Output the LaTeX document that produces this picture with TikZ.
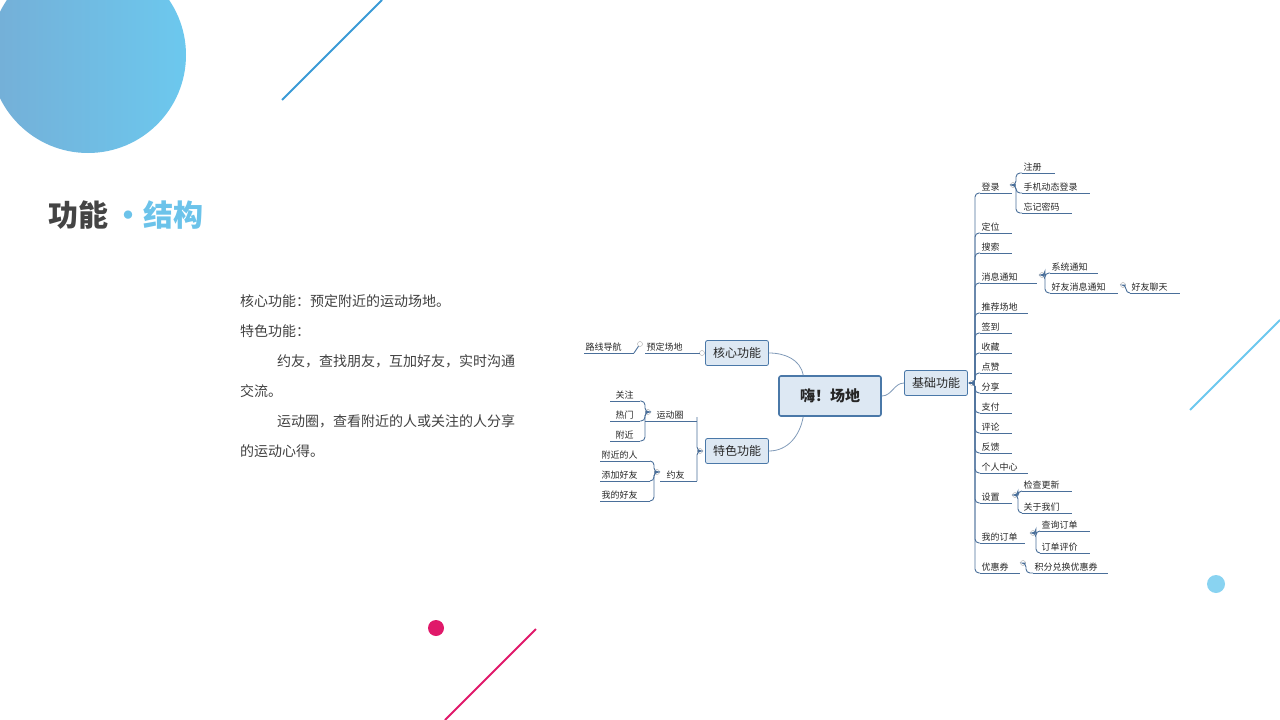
\documentclass[tikz,border=0pt]{standalone}
\usepackage{fontspec}
\setmainfont{Noto Sans CJK SC}
\usetikzlibrary{calc}
\definecolor{boxfill}{HTML}{DDE8F3}
\definecolor{boxline}{HTML}{4A78A8}
\definecolor{brline}{HTML}{4A6F9A}
\definecolor{titlegray}{HTML}{444444}
\definecolor{titleblue}{HTML}{6CC3EA}
\definecolor{pinkline}{HTML}{E0196A}
\definecolor{skyline}{HTML}{6CC8EE}
\definecolor{deepline}{HTML}{3A9AD6}

\tikzset{
  topic/.style={draw=boxline, fill=boxfill, thick, rounded corners=2pt, font=\fontsize{12}{14}\selectfont, text=black!85, inner sep=0pt, minimum height=25pt, minimum width=63pt},
  leaf/.style={font=\fontsize{9}{11}\selectfont, text=black!85, inner sep=1.5pt, anchor=south west},
  br/.style={draw=brline, line width=0.9pt},
  knob/.style={circle, draw=gray!70, fill=white, inner sep=0pt, minimum size=5pt},
  body/.style={font=\fontsize{14}{16}\selectfont, text=black!75, anchor=west, inner sep=0pt}
}

% leaf: name, left x, right x, line y, text
\newcommand\leaf[5]{
  \coordinate (#1-l) at (#2,#4);
  \coordinate (#1-r) at (#3,#4);
  \draw[br] (#1-l) -- (#1-r);
  \node[leaf] (#1) at (#1-l) {#5};
}
\newcommand\rbr[2]{\draw[br, rounded corners=4pt] (#1) -- ++(3,0) |- (#2-l);}
\newcommand\lbr[2]{\draw[br, rounded corners=4pt] (#1) -- ++(-3,0) |- (#2-r);}

\begin{document}
\begin{tikzpicture}[x=1pt,y=-1pt]
\useasboundingbox (0,0) rectangle (1280,720);

% decoration
\shade[left color=violet!45!cyan!70, right color=skyline] (88,55) circle (98);
\draw[deepline, line width=2pt] (282,100) -- (382,0);
\draw[skyline, line width=2pt] (1190,410) -- (1280,320);
\fill[skyline!80] (1216,584) circle (9);
\fill[pinkline] (436,628) circle (8);
\draw[pinkline, line width=2pt] (445,720) -- (536,629);

% title
\node[anchor=west, inner sep=0pt, font=\fontsize{30}{34}\selectfont\bfseries] (title) at (48,215)
  {\textcolor{titlegray}{功能}\,\textcolor{titleblue}{·结构}};

% description
\node[body] (d1) at (240,301) {核心功能：预定附近的运动场地。};
\node[body] (d2) at (240,331) {特色功能：};
\node[body] (d3) at (277,361) {约友，查找朋友，互加好友，实时沟通};
\node[body] (d4) at (240,391) {交流。};
\node[body] (d5) at (277,421) {运动圈，查看附近的人或关注的人分享};
\node[body] (d6) at (240,451) {的运动心得。};

% central topics
\node[topic, line width=1.6pt, minimum width=102pt, minimum height=40pt, font=\fontsize{15}{17}\selectfont\bfseries] (hi) at (830,396) {嗨！场地};
\node[topic] (core) at (737,353) {核心功能};
\node[topic] (spec) at (737,451) {特色功能};
\node[topic] (base) at (936,383) {基础功能};
\draw[brline!70, thick] (core.east) to[out=0, in=100] ([xshift=25pt]hi.north west);
\draw[brline!70, thick] (spec.east) to[out=0, in=-100] ([xshift=25pt]hi.south west);
\draw[brline!70, thick] (hi.east) to[out=0, in=180] (base.west);

% core branch
\node[knob] (kc) at (702,353) {};
\leaf{book}{645}{700}{353}{预定场地}
\node[knob] (kb) at (640,344) {};
\leaf{nav}{584}{634}{353}{路线导航}
\node[leaf] at (book-l) {};

% special branch
\node[knob] (ks) at (700,451) {};
\leaf{circ}{645}{697}{421}{\hspace{10pt}运动圈}
\leaf{date}{660}{697}{481}{\hspace{5pt}约友}
\lbr{ks}{circ}
\lbr{ks}{date}
\node[knob] (kci) at (648,412) {};
\leaf{foll}{610}{640}{401}{\hspace{4pt}关注}
\leaf{hot}{610}{640}{421}{\hspace{4pt}热门}
\leaf{near}{610}{640}{441}{\hspace{4pt}附近}
\lbr{kci}{foll}
\lbr{kci}{hot}
\lbr{kci}{near}
\node[knob] (kda) at (657,472) {};
\leaf{np}{600}{650}{461}{附近的人}
\leaf{add}{600}{650}{481}{添加好友}
\leaf{mine}{600}{650}{501}{我的好友}
\lbr{kda}{np}
\lbr{kda}{add}
\lbr{kda}{mine}

% base branch
\node[knob] (kba) at (972,383) {};
\leaf{login}{980}{1012}{193}{登录}
\leaf{loc}{980}{1012}{233}{定位}
\leaf{search}{980}{1012}{253}{搜索}
\leaf{msg}{980}{1037}{283}{消息通知}
\leaf{rec}{980}{1028}{313}{推荐场地}
\leaf{sign}{980}{1012}{333}{签到}
\leaf{fav}{980}{1012}{353}{收藏}
\leaf{like}{980}{1012}{373}{点赞}
\leaf{share}{980}{1012}{393}{分享}
\leaf{pay}{980}{1012}{413}{支付}
\leaf{comm}{980}{1012}{433}{评论}
\leaf{feed}{980}{1012}{453}{反馈}
\leaf{me}{980}{1028}{473}{个人中心}
\leaf{set}{980}{1012}{503}{设置}
\leaf{order}{980}{1025}{543}{我的订单}
\leaf{coup}{980}{1020}{573}{优惠券}
\foreach \c in {login,loc,search,msg,rec,sign,fav,like,share,pay,comm,feed,me,set,order,coup}
  {\rbr{kba}{\c}}

\node[knob] (klo) at (1013,185) {};
\leaf{reg}{1022}{1055}{173}{注册}
\leaf{phone}{1022}{1090}{193}{手机动态登录}
\leaf{forget}{1022}{1072}{213}{忘记密码}
\foreach \c in {reg,phone,forget} {\rbr{klo}{\c}}

\node[knob] (kms) at (1042,275) {};
\leaf{sys}{1050}{1098}{273}{系统通知}
\leaf{fmsg}{1050}{1118}{293}{好友消息通知}
\foreach \c in {sys,fmsg} {\rbr{kms}{\c}}
\node[knob] (kfm) at (1123,285) {};
\leaf{chat}{1130}{1180}{293}{好友聊天}
\rbr{kfm}{chat}

\node[knob] (kse) at (1015,495) {};
\leaf{upd}{1022}{1072}{491}{检查更新}
\leaf{about}{1022}{1072}{513}{关于我们}
\foreach \c in {upd,about} {\rbr{kse}{\c}}

\node[knob] (kor) at (1033,533) {};
\leaf{query}{1040}{1090}{531}{查询订单}
\leaf{rate}{1040}{1090}{553}{订单评价}
\foreach \c in {query,rate} {\rbr{kor}{\c}}

\node[knob] (kco) at (1023,563) {};
\leaf{pts}{1033}{1108}{573}{积分兑换优惠券}
\rbr{kco}{pts}

% core side links
\draw[br] (kc) -- (book-r);
\draw[br] (kb) -- (nav-r);
\end{tikzpicture}
\end{document}
